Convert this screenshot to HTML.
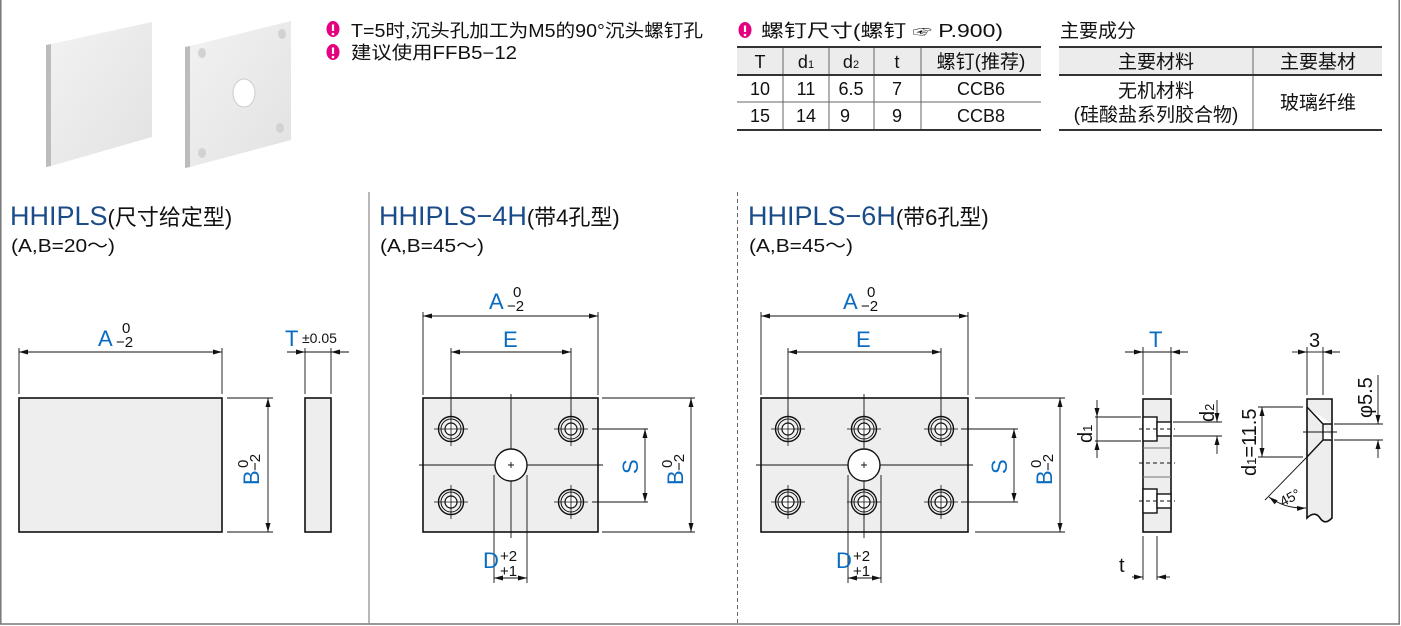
<!DOCTYPE html>
<html><head><meta charset="utf-8"><style>
html,body{margin:0;padding:0;background:#fff;}
svg{display:block;font-family:"Liberation Sans","Noto Sans CJK SC",sans-serif;}
.b{fill:#0a6cc0;}
.t{fill:#1b4c8a;}
.k{fill:#111;}
</style></head><body>
<svg width="1401" height="626" viewBox="0 0 1401 626" xmlns="http://www.w3.org/2000/svg">
<defs>
<marker id="a" markerUnits="userSpaceOnUse" markerWidth="9" markerHeight="6" refX="9" refY="2.5" orient="auto-start-reverse"><path d="M0,0 L9,2.5 L0,5 z" fill="#111"/></marker>
<linearGradient id="pg" x1="0" y1="0" x2="1" y2="1"><stop offset="0" stop-color="#f2f2f2"/><stop offset="1" stop-color="#e2e2e2"/></linearGradient>
<g id="h"><circle r="12.5" fill="#f0f0f0" stroke="#111" stroke-width="1.4"/><circle r="10" fill="none" stroke="#111" stroke-width="1"/><circle r="6" fill="#fff" stroke="#111" stroke-width="1.2"/><path d="M-17,0H17M0,-17V17" stroke="#111" stroke-width="0.8"/></g>
</defs>
<!-- frame -->
<path d="M0.8,0V624H1399.2V0" fill="none" stroke="#777" stroke-width="1.5"/>
<line x1="369" y1="192" x2="369" y2="624" stroke="#888" stroke-width="1.2"/>
<line x1="737.5" y1="192" x2="737.5" y2="624" stroke="#666" stroke-width="1" stroke-dasharray="4,3"/>

<!-- photos -->
<polygon points="46,45 51,44 51,166 46,167" fill="#bcbcbc"/>
<polygon points="51,44 152,22 152,137 51,166" fill="url(#pg)"/>
<polygon points="185,47 190,46 190,167 185,168" fill="#bcbcbc"/>
<polygon points="190,46 291,21 291,140 190,167" fill="url(#pg)"/>
<ellipse cx="244" cy="93" rx="11" ry="14" fill="#fff" stroke="#ccc"/>
<g fill="#d2d2d2"><ellipse cx="202" cy="53" rx="4" ry="5"/><ellipse cx="282" cy="34" rx="4" ry="5"/><ellipse cx="280" cy="128" rx="4" ry="5"/><ellipse cx="202" cy="153" rx="4" ry="5"/></g>

<!-- notes -->
<g font-size="17" class="k">
<g transform="translate(333,29)"><ellipse rx="6.5" ry="8" fill="#e4007f"/><path d="M0,-4.5V2" stroke="#fff" stroke-width="2.2"/><circle cy="5" r="1.3" fill="#fff"/></g>
<text x="351" y="37" font-size="18" textLength="352" lengthAdjust="spacingAndGlyphs">T=5时,沉头孔加工为M5的90°沉头螺钉孔</text>
<g transform="translate(333,52)"><ellipse rx="6.5" ry="8" fill="#e4007f"/><path d="M0,-4.5V2" stroke="#fff" stroke-width="2.2"/><circle cy="5" r="1.3" fill="#fff"/></g>
<text x="351" y="59" font-size="18" textLength="166" lengthAdjust="spacingAndGlyphs">建议使用FFB5−12</text>
<g transform="translate(745,30)"><ellipse rx="6.5" ry="8" fill="#e4007f"/><path d="M0,-4.5V2" stroke="#fff" stroke-width="2.2"/><circle cy="5" r="1.3" fill="#fff"/></g>
<text x="761" y="37" font-size="18" textLength="242" lengthAdjust="spacingAndGlyphs">螺钉尺寸(螺钉 <tspan font-size="15">☞</tspan> P.900)</text>
<text x="1060" y="37" font-size="19">主要成分</text>
</g>

<!-- table1 -->
<rect x="737" y="47" width="304" height="28" fill="#ececec"/>
<g stroke="#666" stroke-width="1"><line x1="783" y1="47" x2="783" y2="130"/><line x1="829" y1="47" x2="829" y2="130"/><line x1="874" y1="47" x2="874" y2="130"/><line x1="921" y1="47" x2="921" y2="130"/><line x1="737" y1="102" x2="1041" y2="102"/></g>
<g stroke="#333" stroke-width="2"><line x1="737" y1="47" x2="1041" y2="47"/><line x1="737" y1="75" x2="1041" y2="75"/><line x1="737" y1="130" x2="1041" y2="130"/></g>
<g font-size="18" class="k" text-anchor="middle">
<text x="760" y="68">T</text><text x="806" y="68">d<tspan font-size="11">1</tspan></text><text x="851" y="68">d<tspan font-size="11">2</tspan></text><text x="897" y="68">t</text><text x="981" y="68" font-size="19">螺钉(推荐)</text>
<text x="760" y="95">10</text><text x="806" y="95">11</text><text x="851" y="95">6.5</text><text x="897" y="95">7</text><text x="981" y="95">CCB6</text>
<text x="760" y="122">15</text><text x="806" y="122">14</text><text x="845" y="122">9</text><text x="897" y="122">9</text><text x="981" y="122">CCB8</text>
</g>
<!-- table2 -->
<rect x="1059" y="47" width="323" height="28" fill="#ececec"/>
<line x1="1253" y1="47" x2="1253" y2="130" stroke="#666"/>
<g stroke="#333" stroke-width="2"><line x1="1059" y1="47" x2="1382" y2="47"/><line x1="1059" y1="75" x2="1382" y2="75"/><line x1="1059" y1="130" x2="1382" y2="130"/></g>
<g font-size="19" class="k" text-anchor="middle">
<text x="1156" y="68">主要材料</text><text x="1318" y="68">主要基材</text>
<text x="1156" y="97">无机材料</text><text x="1156" y="121">(硅酸盐系列胶合物)</text><text x="1318" y="109">玻璃纤维</text>
</g>

<!-- titles -->
<g font-size="27" class="t">
<text x="10" y="225">HHIPLS<tspan font-size="22" fill="#111">(尺寸给定型)</tspan></text>
<text x="379" y="225">HHIPLS−4H<tspan font-size="22" fill="#111">(带4孔型)</tspan></text>
<text x="748" y="225">HHIPLS−6H<tspan font-size="22" fill="#111">(带6孔型)</tspan></text>
</g>
<g font-size="18" class="k">
<text x="11" y="252" textLength="104" lengthAdjust="spacingAndGlyphs">(A,B=20～)</text><text x="380" y="252" textLength="104" lengthAdjust="spacingAndGlyphs">(A,B=45～)</text><text x="749" y="252" textLength="104" lengthAdjust="spacingAndGlyphs">(A,B=45～)</text>
</g>

<g stroke="#111" stroke-width="0.9" fill="none">
<!-- view 1 -->
<rect x="19" y="398" width="203" height="134" fill="#eee" stroke-width="1.6"/>
<path d="M19,348V394M222,348V394M227,398H273M227,532H273"/>
<line x1="19" y1="352" x2="222" y2="352" marker-start="url(#a)" marker-end="url(#a)"/>
<line x1="268" y1="398" x2="268" y2="532" marker-start="url(#a)" marker-end="url(#a)"/>
<rect x="305" y="398" width="26" height="134" fill="#eee" stroke-width="1.6"/>
<path d="M305,348V394M331,348V394"/>
<line x1="287" y1="352" x2="305" y2="352" marker-end="url(#a)"/>
<line x1="349" y1="352" x2="331" y2="352" marker-end="url(#a)"/>
<line x1="305" y1="352" x2="331" y2="352"/>

<!-- view 2 -->
<rect x="423" y="398" width="175" height="134" fill="#eee" stroke-width="1.6"/>
<path d="M423,312V395M598,312V395M451,348V420M571,348V420"/>
<line x1="423" y1="316" x2="598" y2="316" marker-start="url(#a)" marker-end="url(#a)"/>
<line x1="451" y1="352" x2="571" y2="352" marker-start="url(#a)" marker-end="url(#a)"/>
<path d="M419,465H603M511,394V538M494,475V583M527,475V583M592,429H648M592,502H648M602,398H695M602,532H695"/>
<line x1="494" y1="578" x2="527" y2="578" marker-start="url(#a)" marker-end="url(#a)"/>
<line x1="645" y1="429" x2="645" y2="502" marker-start="url(#a)" marker-end="url(#a)"/>
<line x1="691" y1="398" x2="691" y2="532" marker-start="url(#a)" marker-end="url(#a)"/>
<circle cx="511" cy="465" r="16" fill="#fff" stroke-width="1.4"/>
<path d="M508,465H514M511,462V468"/>

<!-- view 3 -->
<rect x="761" y="398" width="207" height="134" fill="#eee" stroke-width="1.6"/>
<path d="M761,312V395M968,312V395M788,348V420M941,348V420"/>
<line x1="761" y1="316" x2="968" y2="316" marker-start="url(#a)" marker-end="url(#a)"/>
<line x1="788" y1="352" x2="941" y2="352" marker-start="url(#a)" marker-end="url(#a)"/>
<path d="M756,465H973M864,394V538M848,475V583M881,475V583M961,429H1018M961,502H1018M975,398H1065M975,532H1065"/>
<line x1="848" y1="578" x2="881" y2="578" marker-start="url(#a)" marker-end="url(#a)"/>
<line x1="1014" y1="429" x2="1014" y2="502" marker-start="url(#a)" marker-end="url(#a)"/>
<line x1="1060" y1="398" x2="1060" y2="532" marker-start="url(#a)" marker-end="url(#a)"/>
<circle cx="864" cy="465" r="16" fill="#fff" stroke-width="1.4"/>
<path d="M861,465H867M864,462V468"/>

<!-- side view -->
<rect x="1143" y="399" width="28" height="133" fill="#eee" stroke-width="1.6"/>
<rect x="1143" y="417" width="14" height="24" fill="#fff" stroke-width="1.4"/>
<rect x="1157" y="422" width="14" height="14" fill="#fff" stroke-width="1.4"/>
<rect x="1143" y="489" width="14" height="24" fill="#fff" stroke-width="1.4"/>
<rect x="1157" y="494" width="14" height="14" fill="#fff" stroke-width="1.4"/>
<path d="M1143,448H1171M1143,477H1171" stroke="#777"/>
<path d="M1139,429H1175M1139,463H1175M1139,501H1175" stroke-dasharray="4,3"/>
<path d="M1143,347V395M1171,347V395"/>
<line x1="1125" y1="352" x2="1143" y2="352" marker-end="url(#a)"/>
<line x1="1188" y1="352" x2="1171" y2="352" marker-end="url(#a)"/>
<line x1="1143" y1="352" x2="1171" y2="352"/>
<path d="M1095,417H1141M1095,441H1141"/>
<line x1="1097" y1="400" x2="1097" y2="417" marker-end="url(#a)"/>
<line x1="1097" y1="458" x2="1097" y2="441" marker-end="url(#a)"/>
<line x1="1097" y1="417" x2="1097" y2="441"/>
<path d="M1173,422H1222M1173,436H1222"/>
<line x1="1217" y1="400" x2="1217" y2="422" marker-end="url(#a)"/>
<line x1="1217" y1="454" x2="1217" y2="436" marker-end="url(#a)"/>
<path d="M1143,536V580M1157,536V580"/>
<line x1="1132" y1="577" x2="1143" y2="577" marker-end="url(#a)"/>
<line x1="1170" y1="577" x2="1157" y2="577" marker-end="url(#a)"/>

<!-- detail -->
<path d="M1307,399H1332V518 C1328,522 1324,524 1320,518 C1316,512 1311,514 1307,518Z" fill="#eee" stroke-width="1.6"/>
<path d="M1307,407L1323,424H1332M1323,424V440H1332M1323,440L1307,457" fill="#fff" stroke-width="1.4"/>
<path d="M1303,432H1337"/>
<path d="M1307,347V395M1323,347V395"/>
<line x1="1292" y1="352" x2="1307" y2="352" marker-end="url(#a)"/>
<line x1="1340" y1="352" x2="1323" y2="352" marker-end="url(#a)"/>
<line x1="1307" y1="352" x2="1323" y2="352"/>
<path d="M1258,407H1303M1258,457H1303"/>
<line x1="1262" y1="407" x2="1262" y2="457" marker-start="url(#a)" marker-end="url(#a)"/>
<path d="M1334,424H1383M1334,440H1383"/>
<line x1="1378" y1="375" x2="1378" y2="424" marker-end="url(#a)"/>
<line x1="1378" y1="458" x2="1378" y2="440" marker-end="url(#a)"/>
<line x1="1307" y1="457" x2="1265" y2="500"/>
<path d="M1269,497 Q1285,509 1306,508" marker-start="url(#a)" marker-end="url(#a)"/>
</g>
<!-- counterbored holes -->
<use href="#h" x="451" y="429"/><use href="#h" x="571" y="429"/><use href="#h" x="451" y="502"/><use href="#h" x="571" y="502"/>
<use href="#h" x="788" y="429"/><use href="#h" x="864" y="429"/><use href="#h" x="941" y="429"/>
<use href="#h" x="788" y="502"/><use href="#h" x="864" y="502"/><use href="#h" x="941" y="502"/>
<g transform="translate(1290,503) rotate(-28)"><text font-size="14" class="k" x="-8" y="0">45°</text></g>

<!-- dimension labels -->
<g font-size="22" class="b">
<text x="98" y="346">A</text><text x="489" y="309">A</text><text x="843" y="309">A</text>
<text x="503" y="347">E</text><text x="856" y="347">E</text>
<text x="285" y="346">T</text><text x="1149" y="347">T</text>
<text x="483" y="568">D</text><text x="836" y="568">D</text>
</g>
<g font-size="15" class="k">
<text x="122" y="333">0</text><text x="116" y="347">−2</text>
<text x="513" y="297">0</text><text x="507" y="311">−2</text>
<text x="867" y="297">0</text><text x="861" y="311">−2</text>
<text x="302" y="343" font-size="14">±0.05</text>
<text x="500" y="561">+2</text><text x="500" y="576">+1</text>
<text x="853" y="561">+2</text><text x="853" y="576">+1</text>
<text x="1309" y="347" font-size="20">3</text>
<text x="1119" y="572" font-size="20">t</text>
</g>
<g font-size="22" class="b">
<g transform="translate(259,485) rotate(-90)"><text x="0" y="0">B</text><text x="17" y="-11" font-size="15" fill="#111">0</text><text x="14" y="1" font-size="15" fill="#111">−2</text></g>
<g transform="translate(683,485) rotate(-90)"><text x="0" y="0">B</text><text x="17" y="-11" font-size="15" fill="#111">0</text><text x="14" y="1" font-size="15" fill="#111">−2</text></g>
<g transform="translate(1052,485) rotate(-90)"><text x="0" y="0">B</text><text x="17" y="-11" font-size="15" fill="#111">0</text><text x="14" y="1" font-size="15" fill="#111">−2</text></g>
<g transform="translate(638,474) rotate(-90)"><text x="0" y="0">S</text></g>
<g transform="translate(1007,474) rotate(-90)"><text x="0" y="0">S</text></g>
</g>
<g font-size="20" class="k">
<g transform="translate(1092,443) rotate(-90)"><text>d<tspan font-size="13">1</tspan></text></g>
<g transform="translate(1214,422) rotate(-90)"><text>d<tspan font-size="13">2</tspan></text></g>
<g transform="translate(1256,476) rotate(-90)"><text>d<tspan font-size="13">1</tspan>=11.5</text></g>
<g transform="translate(1372,418) rotate(-90)"><text>φ5.5</text></g>
</g>
</svg>
</body></html>
